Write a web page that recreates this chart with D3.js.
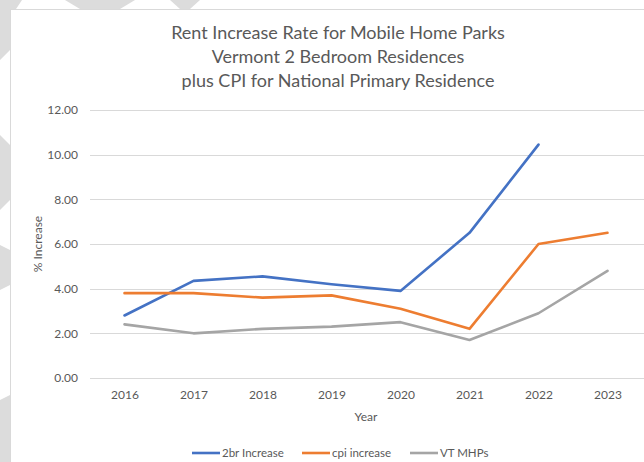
<!DOCTYPE html>
<html>
<head>
<meta charset="utf-8">
<script src="https://cdn.jsdelivr.net/npm/d3@7"></script>
<style>
  body { margin: 0; background: #fff; }
  svg { display: block; }
  text { font-family: Lato, "Liberation Sans", sans-serif; fill: #595959; }
</style>
</head>
<body>
<svg id="svg1" width="644" height="462"></svg>
<script>
var years = ["2016", "2017", "2018", "2019", "2020", "2021", "2022", "2023"];
var br2Increase = [2.8, 4.35, 4.55, 4.2, 3.9, 6.5, 10.45, null];
var cpiIncrease = [3.8, 3.8, 3.6, 3.7, 3.1, 2.2, 6.0, 6.5];
var vtMHPs = [2.4, 2.0, 2.2, 2.3, 2.5, 1.7, 2.9, 4.8];
var seriesNames = ["2br Increase", "cpi increase", "VT MHPs"];
var seriesColors = ["#4472C4", "#ED7D31", "#A5A5A5"];
var titleLines = ["Rent Increase Rate for Mobile Home Parks",
                  "Vermont 2 Bedroom Residences",
                  "plus CPI for National Primary Residence"];
var yTicks = [0, 2, 4, 6, 8, 10, 12];

var svg = d3.select("#svg1");

// grey watermark shapes showing in the margin behind the chart
var wm = svg.append("g").attr("fill", "#dcdcdc");
[[[0,0],[22,0],[10,18],[10,50],[0,60]],
 [[65,0],[135,0],[120,9],[80,9]],
 [[170,0],[200,0],[190,9],[180,9]],
 [[0,135],[10,145],[10,200],[0,210]],
 [[0,245],[10,250],[10,285],[0,290]],
 [[0,400],[10,395],[10,462],[0,462]]].forEach(function(p) {
  wm.append("polygon").attr("points", p.map(function(q) { return q.join(","); }).join(" "));
});

// chart frame
svg.append("rect")
    .attr("x", 10.5).attr("y", 9.5)
    .attr("width", 700).attr("height", 500)
    .attr("fill", "#fff")
    .attr("stroke", "#d9d9d9");

var x = d3.scalePoint().domain(years).range([90, 642]).padding(0.5),
    y = d3.scaleLinear().domain([0, 12]).range([378, 110]);

// title
svg.append("g").selectAll("text")
  .data(titleLines)
  .enter().append("text")
    .attr("x", 338)
    .attr("y", function(d, i) { return 39 + i * 24; })
    .attr("text-anchor", "middle")
    .style("font-size", "18px")
    .text(function(d) { return d; });

// y axis with gridlines
var yAxis = svg.append("g")
    .attr("transform", "translate(90,0)")
    .call(d3.axisLeft(y).tickValues(yTicks).tickFormat(d3.format(".2f")).tickSize(0).tickPadding(12));
yAxis.select(".domain").remove();
yAxis.selectAll("text").style("font-size", "12px").attr("fill", "#595959");

svg.append("g").selectAll("line")
  .data(yTicks)
  .enter().append("line")
    .attr("x1", 90).attr("x2", 644)
    .attr("y1", function(d) { return Math.round(y(d)) + 0.5; })
    .attr("y2", function(d) { return Math.round(y(d)) + 0.5; })
    .attr("stroke", "#d9d9d9");

// x axis labels
var xAxis = svg.append("g")
    .attr("transform", "translate(0,378)")
    .call(d3.axisBottom(x).tickSize(0).tickPadding(12));
xAxis.select(".domain").remove();
xAxis.selectAll("text").style("font-size", "12px").attr("fill", "#595959");

// axis titles
svg.append("text")
    .attr("x", 366).attr("y", 421)
    .attr("text-anchor", "middle")
    .style("font-size", "12px")
    .text("Year");

svg.append("text")
    .attr("transform", "translate(42,244) rotate(-90)")
    .attr("text-anchor", "middle")
    .style("font-size", "12px")
    .text("% Increase");

// lines
var dataset = [br2Increase, cpiIncrease, vtMHPs].map(function(vals, i) {
  return {
    id: seriesNames[i],
    color: seriesColors[i],
    values: years.map(function(yr, j) { return {year: yr, v: vals[j]}; })
  };
});

var line = d3.line()
    .defined(function(d) { return d.v != null; })
    .x(function(d) { return x(d.year); })
    .y(function(d) { return y(d.v); });

svg.append("g").selectAll("path")
  .data(dataset)
  .enter().append("path")
    .attr("d", function(d) { return line(d.values); })
    .attr("fill", "none")
    .attr("stroke", function(d) { return d.color; })
    .attr("stroke-width", 2.6)
    .attr("stroke-linejoin", "round")
    .attr("stroke-linecap", "round");

// legend
var legendX = [192, 302, 410];
var legend = svg.append("g").selectAll("g")
  .data(dataset)
  .enter().append("g")
    .attr("transform", function(d, i) { return "translate(" + legendX[i] + ",453)"; });

legend.append("line")
    .attr("x1", 0).attr("x2", 28)
    .attr("stroke", function(d) { return d.color; })
    .attr("stroke-width", 2.6);

legend.append("text")
    .attr("x", 30)
    .attr("dy", "0.35em")
    .style("font-size", "11.5px")
    .text(function(d) { return d.id; });
</script>
</body>
</html>
